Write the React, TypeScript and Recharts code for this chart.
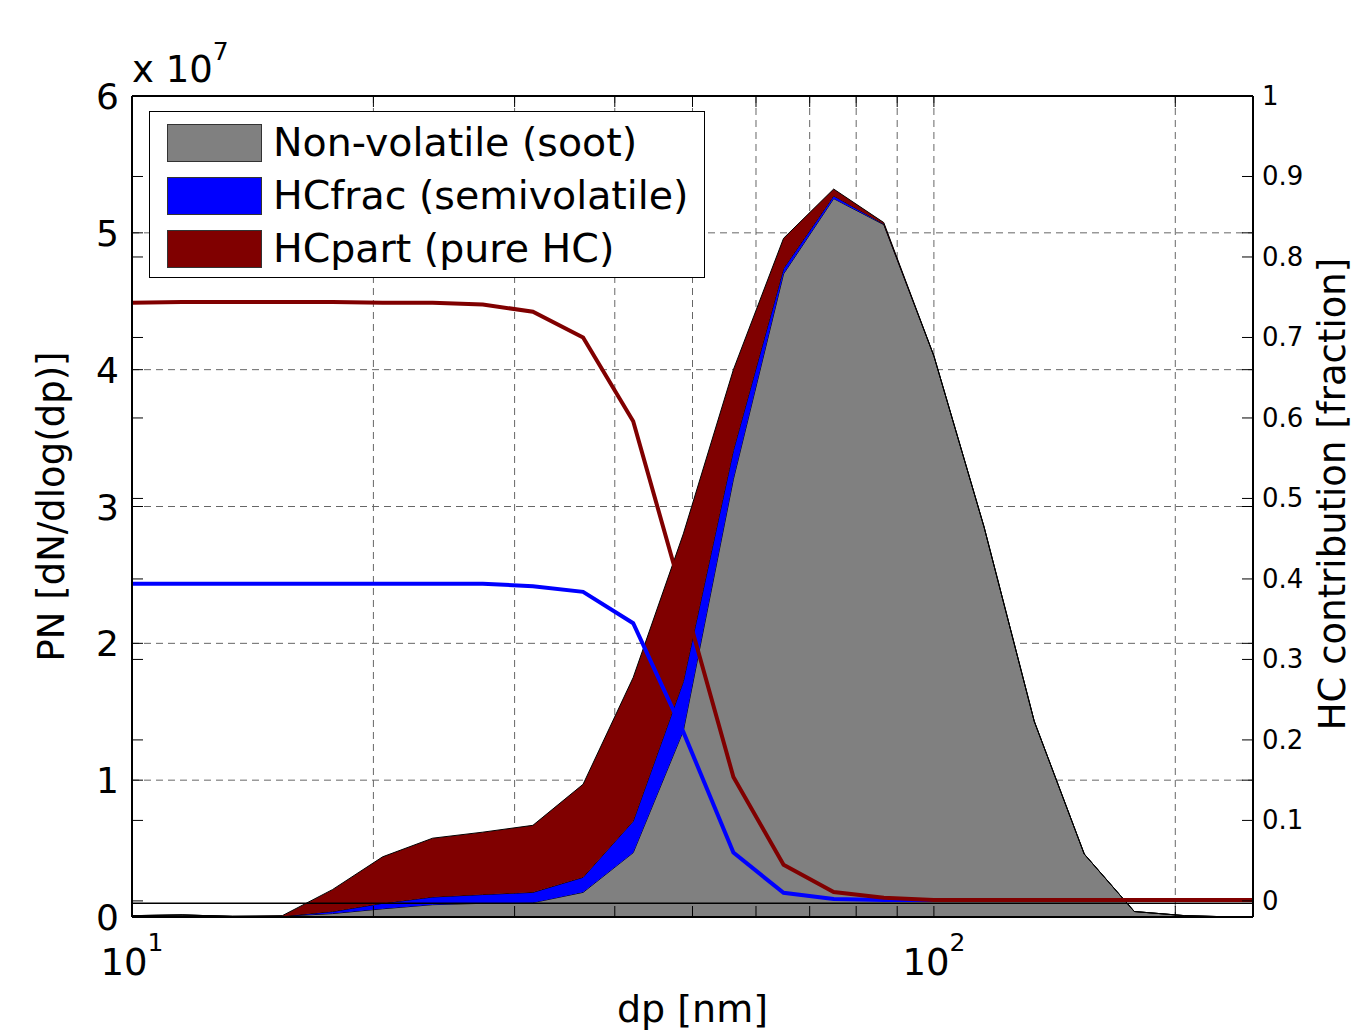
import { Area, CartesianGrid, ComposedChart, Legend, Line, ReferenceLine, XAxis, YAxis } from 'recharts'

// particle diameter bins [nm] (16 channels per decade)
const dp = [10, 11.55, 13.34, 15.4, 17.78, 20.54, 23.71, 27.38, 31.62, 36.52, 42.17, 48.7, 56.23, 64.94, 74.99, 86.6, 100, 115.5, 133.4, 154.0, 177.8, 205.4, 237.1, 273.8]

// stacked PN components, in units of 1e7
const soot = [0.01, 0.015, 0.005, 0.005, 0.025, 0.06, 0.09, 0.1, 0.105, 0.18, 0.47, 1.36, 3.2, 4.7, 5.25, 5.06, 4.1, 2.85, 1.43, 0.46, 0.04, 0.01, 0, 0]
const hcFrac = [0, 0, 0, 0, 0.015, 0.04, 0.056, 0.064, 0.075, 0.11, 0.23, 0.36, 0.21, 0.04, 0.02, 0.005, 0, 0, 0, 0, 0, 0, 0, 0]
const hcPart = [0, 0, 0, 0.005, 0.16, 0.34, 0.43, 0.456, 0.49, 0.68, 1.05, 1.08, 0.59, 0.22, 0.05, 0.01, 0, 0, 0, 0, 0, 0, 0, 0]

// HC contribution [fraction], right axis
const hcPartShare = [0.743, 0.744, 0.744, 0.744, 0.744, 0.743, 0.743, 0.741, 0.732, 0.7, 0.596, 0.376, 0.154, 0.045, 0.011, 0.004, 0.001, 0.001, 0.001, 0.001, 0.001, 0.001, 0.001, 0.001]
const hcFracShare = [0.394, 0.394, 0.394, 0.394, 0.394, 0.394, 0.394, 0.394, 0.391, 0.384, 0.345, 0.21, 0.06, 0.01, 0.0025, 0.001, 0.001, 0.001, 0.001, 0.001, 0.001, 0.001, 0.001, 0.001]

const xTicks = [10, 20, 30, 40, 50, 60, 70, 80, 90, 100, 200]
const leftTicks = [0, 1, 2, 3, 4, 5, 6]
const rightTicks = [0, 0.1, 0.2, 0.3, 0.4, 0.5, 0.6, 0.7, 0.8, 0.9, 1]

const legendItems = [
  { name: 'Non-volatile (soot)', color: '#808080' },
  { name: 'HCfrac (semivolatile)', color: '#0000FF' },
  { name: 'HCpart (pure HC)', color: '#800000' }
]

const data = dp.map((d, i) => ({
  dp: d,
  soot: soot[i],
  hcFrac: hcFrac[i],
  hcPart: hcPart[i],
  hcPartShare: hcPartShare[i],
  hcFracShare: hcFracShare[i]
}))

// plot box (pixels)
const W = 1357
const H = 1034
const PL = 132
const PR = 1253
const PT = 96
const PB = 917
const TICK = 11
const FONT = '"DejaVu Sans", sans-serif'

const XTick = ({ x, payload }: any) => {
  const v = payload.value
  const exp = v === 10 ? '1' : v === 100 ? '2' : null
  return (
    <g>
      <line x1={x} x2={x} y1={PB} y2={PB - TICK} stroke="#000" />
      <line x1={x} x2={x} y1={PT} y2={PT + TICK} stroke="#000" />
      {exp && (
        <text x={x} y={975} textAnchor="middle" fontFamily={FONT} fontSize={37} fill="#000">
          10
          <tspan dy={-24} fontSize={25}>{exp}</tspan>
        </text>
      )}
    </g>
  )
}

const LeftTick = ({ y, payload }: any) => (
  <g>
    <line x1={PL} x2={PL + TICK} y1={y} y2={y} stroke="#000" />
    <line x1={PR - TICK} x2={PR} y1={y} y2={y} stroke="#000" />
    <text x={119} y={y} dy={13} textAnchor="end" fontFamily={FONT} fontSize={36} fill="#000">
      {payload.value}
    </text>
  </g>
)

const RightTick = ({ y, payload }: any) => (
  <g>
    <line x1={PL} x2={PL + TICK} y1={y} y2={y} stroke="#000" />
    <line x1={PR - TICK} x2={PR} y1={y} y2={y} stroke="#000" />
    <text x={1262} y={y} dy={9} textAnchor="start" fontFamily={FONT} fontSize={26} fill="#000">
      {payload.value}
    </text>
  </g>
)

const LegendBox = () => (
  <div
    style={{
      width: 556,
      height: 167,
      border: '1px solid #000',
      background: '#fff',
      boxSizing: 'border-box',
      padding: '4px 0 0 17px',
      fontFamily: FONT,
      fontSize: 39.5
    }}
  >
    {legendItems.map((it) => (
      <div key={it.name} style={{ display: 'flex', alignItems: 'center', height: 53 }}>
        <div style={{ width: 95, height: 38, background: it.color, border: '1px solid #333', boxSizing: 'border-box', flexShrink: 0 }} />
        <span style={{ marginLeft: 11, lineHeight: 1, whiteSpace: 'nowrap' }}>{it.name}</span>
      </div>
    ))}
  </div>
)

export default function App() {
  return (
    <div style={{ position: 'absolute', left: 0, top: 0, width: W, height: H, background: '#fff' }}>
      <ComposedChart width={W} height={H} data={data} margin={{ top: PT, right: 0, bottom: 0, left: 0 }}>
        <CartesianGrid yAxisId="left" stroke="#666" strokeDasharray="7 5" />
        <XAxis
          dataKey="dp"
          type="number"
          scale="log"
          domain={[10, 250]}
          allowDataOverflow
          ticks={xTicks}
          interval={0}
          height={H - PB}
          tick={<XTick />}
          tickLine={false}
          axisLine={{ stroke: '#000', strokeWidth: 2 }}
          label={{ value: 'dp [nm]', position: 'insideBottom', offset: 12, fontFamily: FONT, fontSize: 38, fill: '#000' }}
        />
        <YAxis
          yAxisId="left"
          domain={[0, 6]}
          ticks={leftTicks}
          interval={0}
          width={PL}
          tick={<LeftTick />}
          tickLine={false}
          axisLine={{ stroke: '#000', strokeWidth: 2 }}
        />
        <YAxis
          yAxisId="right"
          orientation="right"
          domain={[-0.02, 1]}
          ticks={rightTicks}
          interval={0}
          width={W - PR}
          tick={<RightTick />}
          tickLine={false}
          axisLine={{ stroke: '#000', strokeWidth: 2 }}
        />
        <Area yAxisId="left" type="linear" dataKey="soot" stackId="pn" fill="#808080" fillOpacity={1} stroke="#000" strokeWidth={1} isAnimationActive={false} />
        <Area yAxisId="left" type="linear" dataKey="hcFrac" stackId="pn" fill="#0000FF" fillOpacity={1} stroke="#000" strokeWidth={1} isAnimationActive={false} />
        <Area yAxisId="left" type="linear" dataKey="hcPart" stackId="pn" fill="#800000" fillOpacity={1} stroke="#000" strokeWidth={1} isAnimationActive={false} />
        <ReferenceLine yAxisId="left" y={0.1} stroke="#000" strokeWidth={1.5} />
        <ReferenceLine yAxisId="left" y={6} stroke="#000" strokeWidth={2} />
        <Line yAxisId="right" type="linear" dataKey="hcFracShare" stroke="#0000FF" strokeWidth={4} dot={false} isAnimationActive={false} />
        <Line yAxisId="right" type="linear" dataKey="hcPartShare" stroke="#800000" strokeWidth={4} dot={false} isAnimationActive={false} />
        <Legend
          layout="vertical"
          align="center"
          verticalAlign="middle"
          content={<LegendBox />}
          wrapperStyle={{ position: 'absolute', left: 149, top: 111, width: 556, height: 167 }}
        />
      </ComposedChart>
      <svg style={{ position: 'absolute', left: 0, top: 0, pointerEvents: 'none' }} width={W} height={H}>
        <text x={PL} y={82} fontFamily={FONT} fontSize={37} fill="#000">
          x 10
          <tspan dy={-22} fontSize={25}>7</tspan>
        </text>
        <text transform={`translate(64, ${(PT + PB) / 2}) rotate(-90)`} textAnchor="middle" fontFamily={FONT} fontSize={37} fill="#000">
          PN [dN/dlog(dp)]
        </text>
        <text transform={`translate(1345, 494) rotate(-90)`} textAnchor="middle" fontFamily={FONT} fontSize={37} fill="#000">
          HC contribution [fraction]
        </text>
      </svg>
    </div>
  )
}
